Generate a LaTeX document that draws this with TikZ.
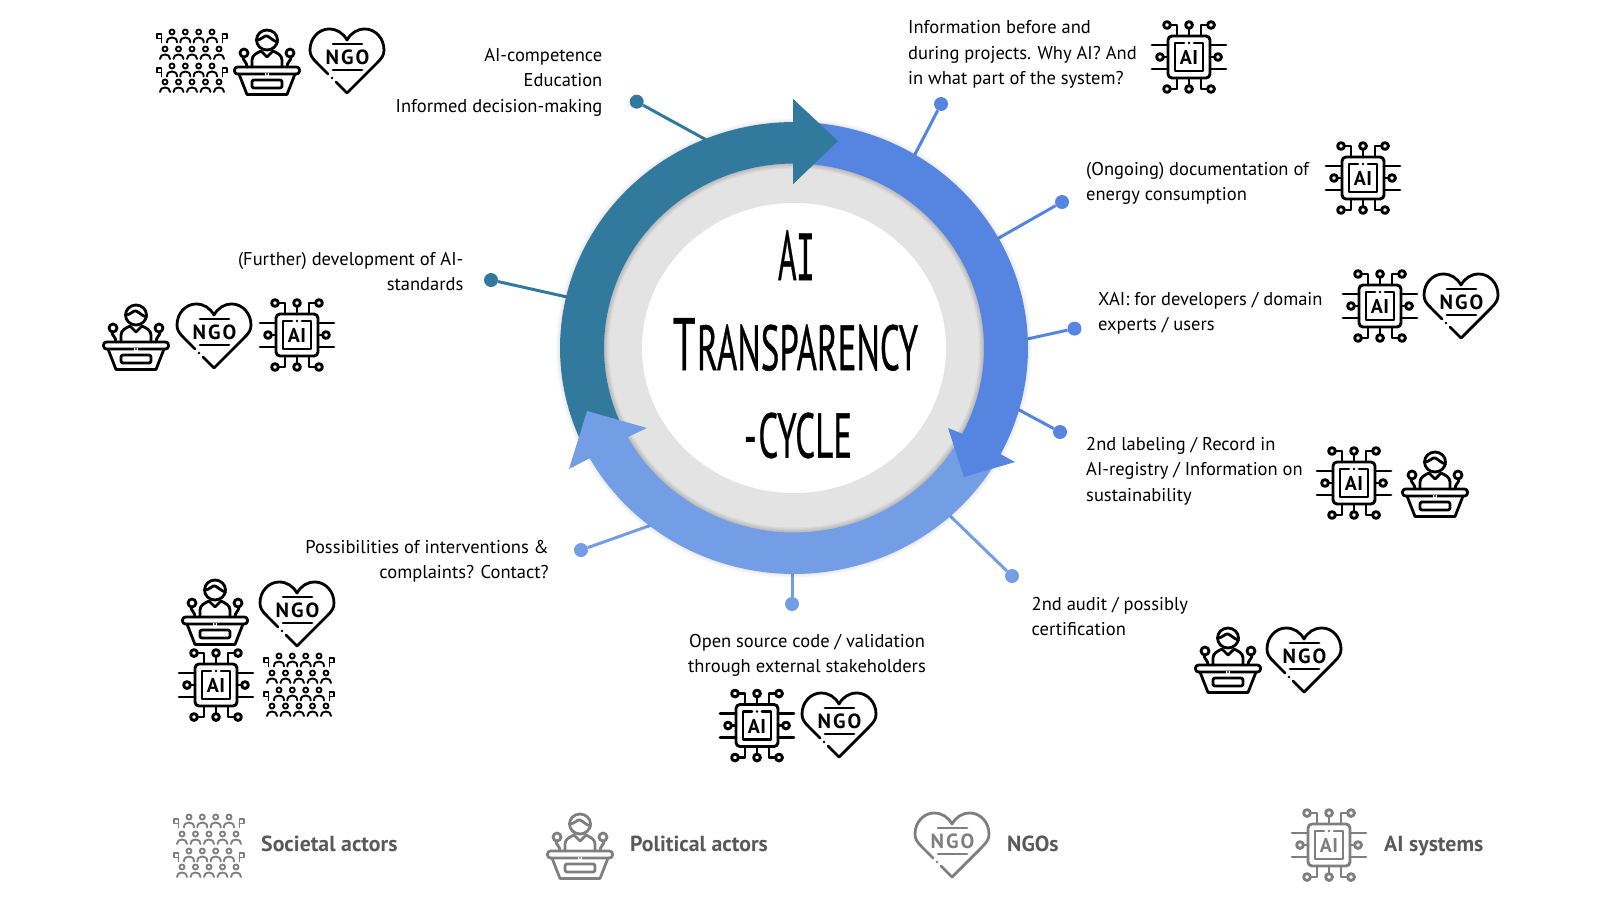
\documentclass[tikz,border=0pt]{standalone}
\usepackage{fontspec}
\setmainfont{PT Sans}
\newfontfamily\titlefont{PT Sans}[FakeBold=0.7]
\newfontfamily\titlemono{Liberation Mono}[FakeBold=0.7]
\usetikzlibrary{calc}
\definecolor{cdark}{HTML}{317A9E}
\definecolor{cblue}{HTML}{5585E0}
\definecolor{clight}{HTML}{739DE4}
\definecolor{cring}{HTML}{E3E3E3}
\definecolor{clegend}{HTML}{7F7F7F}
\definecolor{clegtext}{HTML}{595959}
\newcommand{\ox}{794+234*cos(\x)}
\newcommand{\oy}{348+226*sin(\x)}
\newcommand{\ix}{794+190*cos(\x)}
\newcommand{\iy}{348+184.5*sin(\x)}
\tikzset{
 lbl/.style={inner sep=0pt,font=\fontsize{18.5}{25.5}\selectfont},
 lblL/.style={lbl,anchor=north west,align=left},
 lblR/.style={lbl,anchor=north east,align=right},
 lblC/.style={lbl,anchor=north,align=center},
 legtext/.style={inner sep=0pt,anchor=base west,text=clegtext,font=\fontsize{21.8}{25}\selectfont\bfseries},
 dot/.style={circle,inner sep=0pt,minimum size=14pt,fill=#1},
 conn/.style={line width=3pt,draw=#1},
 ttl/.style={inner sep=0pt,text=black},
 pics/chipicon/.style={code={
  \begin{scope}[line width=2.9pt,line cap=round,line join=round]
   \draw[rounded corners=4pt] (-21,-21) rectangle (21,21);
   \draw (-5,-14) -- (-14,-14) -- (-14,14) -- (14,14) -- (14,-14) -- (5,-14);
   \fill (0,-14) circle (1.3);
   \foreach \s in {1,-1}{
    \draw (0,\s*21) -- (0,\s*28.5);
    \draw (0,\s*32) circle (3.4);
    \draw (-12,\s*21) -- (-12,\s*32) -- (-18.5,\s*32);
    \draw (-22,\s*32) circle (3.4);
    \draw (12,\s*21) -- (12,\s*32) -- (18.5,\s*32);
    \draw (22,\s*32) circle (3.4);
    \draw (\s*21,0) -- (\s*25.5,0);
    \draw (\s*29,0) circle (3.4);
    \draw (\s*21,-12) -- (\s*37,-12);
    \draw (\s*21,12) -- (\s*37,12);
   }
  \end{scope}
  \node[inner sep=0pt,font=\fontsize{20}{20}\selectfont\bfseries] (-t) at (0,0.5) {A\kern0.5pt I};
 }},
 pics/ngoicon/.style={code={
  \begin{scope}[line width=2.8pt,line cap=round,line join=round]
   \draw (-11,22) -- (0,33) -- (30,3) .. controls (35,-2) and (37,-5) .. (37,-10)
     .. controls (37,-22) and (28,-31) .. (18,-31) .. controls (10,-31) and (4,-27) .. (0,-20)
     .. controls (-4,-27) and (-10,-31) .. (-18,-31) .. controls (-28,-31) and (-37,-22) .. (-37,-10)
     .. controls (-37,-5) and (-35,-2) .. (-30,3) -- (-19,14);
   \fill (-15,18) circle (1.4);
   \draw (-14,-16) -- (15,-16);
   \draw (-14,10) -- (15,10);
  \end{scope}
  \node[inner sep=0pt,font=\fontsize{20.5}{20}\selectfont\bfseries] (-t) at (0.5,-3) {N\kern2pt G\kern2pt O};
 }},
 pics/podiumicon/.style={code={
  \begin{scope}[line width=2.8pt,line cap=round,line join=round]
   \draw[rounded corners=3pt] (-32.5,7) rectangle (32.5,14);
   \draw (-28,14) -- (-20,34.5) -- (20,34.5) -- (28,14);
   \draw[rounded corners=2pt] (-15,20) rectangle (15,28);
   \fill[white] (-2,12.5) rectangle (2,15.5);
   \fill (0,14) circle (1.2);
   \draw (0,-20) ellipse (10.5 and 10);
   \draw (-10.5,-20) .. controls (-5,-20) and (-3,-25) .. (0,-24) .. controls (3,-23) and (6,-19) .. (10.5,-18);
   \draw (-15,7) -- (-15,0) .. controls (-15,-5) and (-10,-7) .. (-6,-9) -- (0,-3) -- (6,-9)
         .. controls (10,-7) and (15,-5) .. (15,0) -- (15,7);
   \foreach \s in {1,-1}{
    \draw (\s*23,-7) circle (4);
    \draw (\s*24,-3) .. controls (\s*24,1) and (\s*20,2) .. (\s*20,7);
   }
  \end{scope}
 }},
 pics/crowdicon/.style={code={
  \begin{scope}[line width=1.9pt,line cap=round,line join=round]
   \foreach \yy in {-29,5}{
    \foreach \xx in {-20,-6.7,6.7,20}{
     \draw (\xx,\yy) circle (2.5);
     \draw (\xx-5,\yy+10.5) .. controls (\xx-5,\yy+7) and (\xx-3,\yy+5.5) .. (\xx,\yy+5.5) .. controls (\xx+3,\yy+5.5) and (\xx+5,\yy+7) .. (\xx+5,\yy+10.5);
    }
    \draw (-30.5,\yy+10.5) -- (-30.5,\yy+2) -- (-35,\yy+2) -- (-35,\yy+6.5) -- (-30.5,\yy+6.5);
    \draw (30.5,\yy+10.5) -- (30.5,\yy+2) -- (35,\yy+2) -- (35,\yy+6.5) -- (30.5,\yy+6.5);
   }
   \foreach \yy in {-12,21}{
    \foreach \xx in {-27,-13.5,0,13.5,27}{
     \draw (\xx,\yy) circle (2.5);
     \draw (\xx-5,\yy+10) .. controls (\xx-5,\yy+7) and (\xx-3,\yy+5.5) .. (\xx,\yy+5.5) .. controls (\xx+3,\yy+5.5) and (\xx+5,\yy+7) .. (\xx+5,\yy+10);
    }
   }
  \end{scope}
 }}
}
\begin{document}
\begin{tikzpicture}[x=1pt,y=-1pt]
\useasboundingbox (0,0) rectangle (1600,905);
% connectors
\node[dot=cdark] (d1) at (636.7,101.7) {};
\node[dot=cblue] (d2) at (941,104) {};
\node[dot=cblue] (d3) at (1062,202) {};
\node[dot=cblue] (d4) at (1074.5,328.6) {};
\node[dot=cblue] (d5) at (1060,432) {};
\node[dot=clight] (d6) at (1012,576) {};
\node[dot=clight] (d7) at (792,604) {};
\node[dot=clight] (d8) at (581,550) {};
\node[dot=cdark] (d9) at (491,280) {};
\coordinate (r1) at (712,143);
\coordinate (r2) at (911,162);
\coordinate (r3) at (990,243);
\coordinate (r4) at (1018,341);
\coordinate (r5) at (1010,405);
\coordinate (r6) at (944,510);
\coordinate (r7) at (792,565);
\coordinate (r8) at (660,522);
\coordinate (r9) at (576,299);
\draw[conn=cdark] (d1) -- (r1);
\draw[conn=cblue] (d2) -- (r2);
\draw[conn=cblue] (d3) -- (r3);
\draw[conn=cblue] (d4) -- (r4);
\draw[conn=cblue] (d5) -- (r5);
\draw[conn=clight] (d6) -- (r6);
\draw[conn=clight] (d7) -- (r7);
\draw[conn=clight] (d8) -- (r8);
\draw[conn=cdark] (d9) -- (r9);
% soft outer shadow
\foreach \w in {2,4,6,8}{
 \draw[black,opacity=0.02,line width=\w pt] (794,348) ellipse (234 and 226);
}
% grey ring and white centre
\fill[cring] (794,348) ellipse (200 and 194);
\fill[white] (794,348) ellipse (152 and 145);
% shadow cast on the grey ring
\foreach \w in {2,4,6,8,10}{
 \draw[black,opacity=0.035,line width=\w pt] (794,348) ellipse (190 and 184.5);
}
% dark arc
\fill[cdark] plot[domain=154:270,samples=70] ({\ox},{\oy}) -- (793,122) -- (793,99) -- (838,141) -- (793,184) -- (793,163.5) -- plot[domain=270:154,samples=70] ({\ix},{\iy}) -- cycle;
% light arc
\fill[clight] plot[domain=30:151,samples=70] ({\ox},{\oy}) -- (590,458) -- (569,469) -- (587,411) -- (647,428) -- (628,437) -- plot[domain=151:30,samples=70] ({\ix},{\iy}) -- cycle;
% blue arc
\fill[cblue] plot[domain=-85:28,samples=70] ({\ox},{\oy}) -- (1015,462) -- (964,477) -- (948,428) -- (963,434) -- plot[domain=28:-85,samples=70] ({\ix},{\iy}) -- cycle;
% dark arrow head over the blue arc
\fill[cdark] (793,122) -- (793,99) -- (838,141) -- (793,184) -- (793,163.5) -- cycle;
% title
\node[ttl] (t1) at (796.5,255) {\resizebox{37pt}{50pt}{\titlefont A\kern-0.02em\titlemono I}};
\node[ttl] (t2) at (795.5,344.5) {\resizebox{245pt}{52pt}{\titlefont T\kern0.04em{\fontsize{8.6}{10}\selectfont RANSPARENCY}}};
\node[ttl] (t3) at (798,435.5) {\resizebox{108pt}{45pt}{\titlefont -\kern0.05em CYCLE}};
% labels
\node[lblR] (l1) at (602.5,43) {\strut AI-competence\\Education\\Informed decision-making};
\node[lblL] (l2) at (908,15.5) {\strut Information before and\\during projects. Why AI? And\\in what part of the system?};
\node[lblL] (l3) at (1086,157) {\strut (Ongoing) documentation of\\energy consumption};
\node[lblL] (l4) at (1098,287) {\strut XAI: for developers / domain\\experts / users};
\node[lblL] (l5) at (1086,432) {\strut 2nd labeling / Record in\\AI-registry / Information on\\sustainability};
\node[lblL] (l6) at (1031.5,592) {\strut 2nd audit / possibly\\certification};
\node[lblC] (l7) at (807,629) {\strut Open source code / validation\\through external stakeholders};
\node[lblR] (l8) at (549,535) {\strut Possibilities of interventions \&\\complaints? Contact?};
\node[lblR] (l9) at (463.5,247) {\strut (Further) development of AI-\\standards};
% icons
\pic (c1) at (1189,57) {chipicon};
\pic (c2) at (1363,178) {chipicon};
\pic (c3) at (1380,306) {chipicon};
\pic (c4) at (1354,483) {chipicon};
\pic (c5) at (757,725.5) {chipicon};
\pic (c6) at (216,685) {chipicon};
\pic (c7) at (297,335) {chipicon};
\pic (n1) at (347,60) {ngoicon};
\pic (n2) at (1461,305) {ngoicon};
\pic (n3) at (214,335) {ngoicon};
\pic (n4) at (297,613) {ngoicon};
\pic (n5) at (1304,659) {ngoicon};
\pic (n6) at (839,724) {ngoicon};
\pic (p1) at (267,60) {podiumicon};
\pic (p2) at (1435,482) {podiumicon};
\pic (p3) at (136,335) {podiumicon};
\pic (p4) at (215,610) {podiumicon};
\pic (p5) at (1228,658) {podiumicon};
\pic (s1) at (192,61) {crowdicon};
\pic (s2) at (299,685) {crowdicon};
% legend
\pic[color=clegend] (ls) at (209,846) {crowdicon};
\pic[color=clegend] (lp) at (580,844) {podiumicon};
\pic[color=clegend] (ln) at (952,844) {ngoicon};
\pic[color=clegend] (lc) at (1329,845) {chipicon};
\node[legtext] (e1) at (261,851.5) {Societal actors};
\node[legtext] (e2) at (630,851.5) {Political actors};
\node[legtext] (e3) at (1007,851.5) {NGOs};
\node[legtext] (e4) at (1384,851.5) {AI systems};
\end{tikzpicture}
\end{document}
